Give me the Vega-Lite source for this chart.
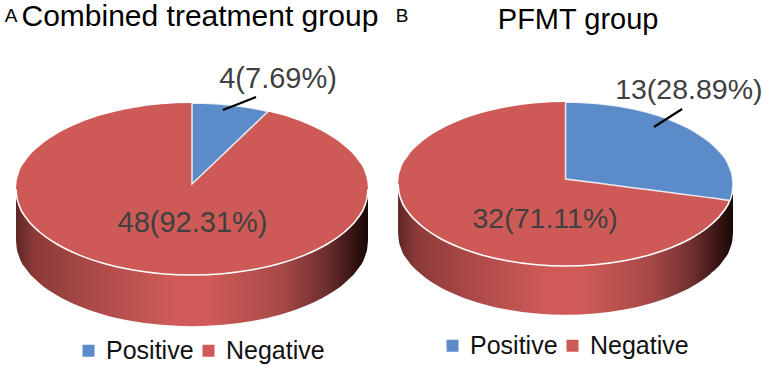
{"$schema":"https://vega.github.io/schema/vega-lite/v6.json","padding":0,"spacing":0,"background":"white","resolve":{"scale":{"color":"independent"},"legend":{"color":"independent"}},"config":{"view":{"stroke":null},"text":{"font":"Liberation Sans"},"legend":{"orient":"none","direction":"horizontal","title":null,"symbolType":"square","symbolSize":144,"symbolStrokeWidth":0,"labelFontSize":25,"labelFont":"Liberation Sans","labelColor":"#111111","labelOffset":5,"columnPadding":2,"labelLimit":200,"padding":0}},"datasets":{"ellipse":[{"u":-1,"top":0,"bottom":0,"wall":-0.595},{"u":-0.996,"top":0.087,"bottom":-0.087,"wall":-0.682},{"u":-0.985,"top":0.174,"bottom":-0.174,"wall":-0.769},{"u":-0.94,"top":0.342,"bottom":-0.342,"wall":-0.937},{"u":-0.866,"top":0.5,"bottom":-0.5,"wall":-1.095},{"u":-0.766,"top":0.643,"bottom":-0.643,"wall":-1.238},{"u":-0.643,"top":0.766,"bottom":-0.766,"wall":-1.361},{"u":-0.5,"top":0.866,"bottom":-0.866,"wall":-1.461},{"u":-0.342,"top":0.94,"bottom":-0.94,"wall":-1.535},{"u":-0.174,"top":0.985,"bottom":-0.985,"wall":-1.58},{"u":0,"top":1,"bottom":-1,"wall":-1.595},{"u":0.174,"top":0.985,"bottom":-0.985,"wall":-1.58},{"u":0.342,"top":0.94,"bottom":-0.94,"wall":-1.535},{"u":0.5,"top":0.866,"bottom":-0.866,"wall":-1.461},{"u":0.643,"top":0.766,"bottom":-0.766,"wall":-1.361},{"u":0.766,"top":0.643,"bottom":-0.643,"wall":-1.238},{"u":0.866,"top":0.5,"bottom":-0.5,"wall":-1.095},{"u":0.94,"top":0.342,"bottom":-0.342,"wall":-0.937},{"u":0.985,"top":0.174,"bottom":-0.174,"wall":-0.769},{"u":0.996,"top":0.087,"bottom":-0.087,"wall":-0.682},{"u":1,"top":0,"bottom":0,"wall":-0.595}],"wedgeA":[{"u":0,"top":1,"edge":0.058},{"u":0.1,"top":0.995,"edge":0.253},{"u":0.2,"top":0.98,"edge":0.449},{"u":0.3,"top":0.954,"edge":0.644},{"u":0.432,"top":0.902,"edge":0.902}],"wedgeB":[{"u":0,"top":1,"edge":0.061},{"u":0.2,"top":0.98,"edge":0.008},{"u":0.4,"top":0.917,"edge":-0.045},{"u":0.6,"top":0.8,"edge":-0.098},{"u":0.8,"top":0.6,"edge":-0.151},{"u":0.9,"top":0.436,"edge":-0.178},{"u":0.98,"top":0.199,"edge":-0.199},{"u":0.995,"top":0.1,"edge":-0.1},{"u":1,"top":0,"edge":0}]},"hconcat":[{"width":383,"height":367,"layer":[{"data":{"name":"ellipse"},"mark":{"type":"area","interpolate":"monotone","fill":{"gradient":"linear","x1":0,"y1":0,"x2":1,"y2":0,"stops":[{"offset":0,"color":"#5e2624"},{"offset":0.05,"color":"#8a3a38"},{"offset":0.2,"color":"#a84846"},{"offset":0.45,"color":"#cf5b59"},{"offset":0.55,"color":"#cf5a58"},{"offset":0.75,"color":"#a84a48"},{"offset":0.88,"color":"#6e2f2e"},{"offset":0.97,"color":"#2e100f"},{"offset":1,"color":"#180808"}]}},"encoding":{"x":{"field":"u","type":"quantitative","axis":null,"scale":{"domain":[-1.0909,1.0852],"nice":false,"zero":false}},"y":{"field":"bottom","type":"quantitative","axis":null,"scale":{"domain":[-2.07,2.198],"nice":false,"zero":false}},"y2":{"field":"wall"}}},{"data":{"name":"ellipse"},"mark":{"type":"area","interpolate":"monotone"},"encoding":{"x":{"field":"u","type":"quantitative"},"y":{"field":"top","type":"quantitative"},"y2":{"field":"bottom"},"color":{"datum":"Negative","type":"nominal","scale":{"domain":["Positive","Negative"],"range":["#5b8bc9","#ce5a57"]},"legend":{"legendX":76,"legendY":338}}}},{"data":{"name":"ellipse"},"mark":{"type":"line","interpolate":"monotone","stroke":"#ffffff","strokeWidth":1.6},"encoding":{"x":{"field":"u","type":"quantitative"},"y":{"field":"bottom","type":"quantitative"}}},{"data":{"name":"wedgeA"},"mark":{"type":"area","interpolate":"monotone","stroke":"#ffffff","strokeWidth":1.5,"strokeOpacity":0.85},"encoding":{"x":{"field":"u","type":"quantitative"},"y":{"field":"top","type":"quantitative"},"y2":{"field":"edge"},"color":{"datum":"Positive","type":"nominal"}}},{"data":{"values":[{"u":0.176,"v":0.919,"u2":0.364,"v2":1.07}]},"mark":{"type":"rule","color":"#000000","strokeWidth":2.2},"encoding":{"x":{"field":"u","type":"quantitative"},"y":{"field":"v","type":"quantitative"},"x2":{"field":"u2"},"y2":{"field":"v2"}}},{"data":{"values":[{"label":"4(7.69%)","count":4,"u":0.489,"v":1.174},{"label":"48(92.31%)","count":48,"u":0.003,"v":-0.5}]},"mark":{"type":"text","fontSize":29,"color":"#404040","baseline":"alphabetic","align":"center"},"encoding":{"x":{"field":"u","type":"quantitative"},"y":{"field":"v","type":"quantitative"},"text":{"field":"label"}}},{"data":{"values":[{"label":"Combined treatment group","u":0.045,"v":1.895}]},"mark":{"type":"text","fontSize":30,"color":"#000000","baseline":"alphabetic","align":"center"},"encoding":{"x":{"field":"u","type":"quantitative"},"y":{"field":"v","type":"quantitative"},"text":{"field":"label"}}},{"data":{"values":[{"label":"A","u":-1.028,"v":1.942}]},"mark":{"type":"text","fontSize":19,"color":"#000000","baseline":"alphabetic","align":"center"},"encoding":{"x":{"field":"u","type":"quantitative"},"y":{"field":"v","type":"quantitative"},"text":{"field":"label"}}}]},{"width":383,"height":367,"layer":[{"data":{"name":"ellipse"},"mark":{"type":"area","interpolate":"monotone","fill":{"gradient":"linear","x1":0,"y1":0,"x2":1,"y2":0,"stops":[{"offset":0,"color":"#5e2624"},{"offset":0.05,"color":"#8a3a38"},{"offset":0.2,"color":"#a84846"},{"offset":0.45,"color":"#cf5b59"},{"offset":0.55,"color":"#cf5a58"},{"offset":0.75,"color":"#a84a48"},{"offset":0.88,"color":"#6e2f2e"},{"offset":0.97,"color":"#2e100f"},{"offset":1,"color":"#180808"}]}},"encoding":{"x":{"field":"u","type":"quantitative","axis":null,"scale":{"domain":[-1.09,1.197],"nice":false,"zero":false}},"y":{"field":"bottom","type":"quantitative","axis":null,"scale":{"domain":[-2.232,2.244],"nice":false,"zero":false}},"y2":{"field":"wall"}}},{"data":{"name":"ellipse"},"mark":{"type":"area","interpolate":"monotone"},"encoding":{"x":{"field":"u","type":"quantitative"},"y":{"field":"top","type":"quantitative"},"y2":{"field":"bottom"},"color":{"datum":"Negative","type":"nominal","scale":{"domain":["Positive","Negative"],"range":["#5b8bc9","#ce5a57"]},"legend":{"legendX":57,"legendY":333}}}},{"data":{"name":"ellipse"},"mark":{"type":"line","interpolate":"monotone","stroke":"#ffffff","strokeWidth":1.6},"encoding":{"x":{"field":"u","type":"quantitative"},"y":{"field":"bottom","type":"quantitative"}}},{"data":{"name":"wedgeB"},"mark":{"type":"area","interpolate":"monotone","stroke":"#ffffff","strokeWidth":1.5,"strokeOpacity":0.85},"encoding":{"x":{"field":"u","type":"quantitative"},"y":{"field":"top","type":"quantitative"},"y2":{"field":"edge"},"color":{"datum":"Positive","type":"nominal"}}},{"data":{"values":[{"u":0.528,"v":0.695,"u2":0.696,"v2":0.915}]},"mark":{"type":"rule","color":"#000000","strokeWidth":2.2},"encoding":{"x":{"field":"u","type":"quantitative"},"y":{"field":"v","type":"quantitative"},"x2":{"field":"u2"},"y2":{"field":"v2"}}},{"data":{"values":[{"label":"13(28.89%)","count":13,"u":0.736,"v":1.037},{"label":"32(71.11%)","count":32,"u":-0.122,"v":-0.537}]},"mark":{"type":"text","fontSize":28.5,"color":"#404040","baseline":"alphabetic","align":"center"},"encoding":{"x":{"field":"u","type":"quantitative"},"y":{"field":"v","type":"quantitative"},"text":{"field":"label"}}},{"data":{"values":[{"label":"PFMT group","u":0.075,"v":1.89}]},"mark":{"type":"text","fontSize":29,"color":"#000000","baseline":"alphabetic","align":"center"},"encoding":{"x":{"field":"u","type":"quantitative"},"y":{"field":"v","type":"quantitative"},"text":{"field":"label"}}},{"data":{"values":[{"label":"B","u":-0.976,"v":1.976}]},"mark":{"type":"text","fontSize":19,"color":"#000000","baseline":"alphabetic","align":"center"},"encoding":{"x":{"field":"u","type":"quantitative"},"y":{"field":"v","type":"quantitative"},"text":{"field":"label"}}}]}]}
